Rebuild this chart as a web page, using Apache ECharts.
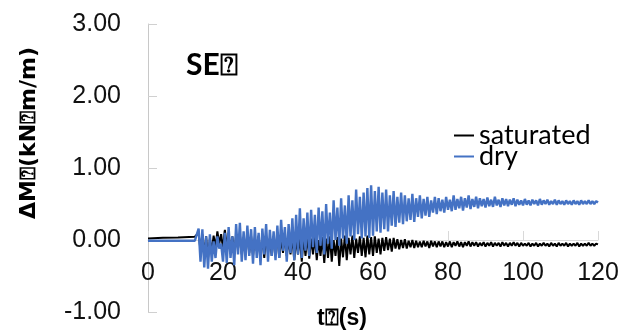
<!DOCTYPE html>
<html>
<head>
<meta charset="utf-8">
<script src="https://cdn.jsdelivr.net/npm/echarts@6/dist/echarts.min.js"></script>
<style>
  html, body { margin: 0; padding: 0; background: #fff; }
  #chart { width: 622px; height: 334px; }
</style>
</head>
<body>
<div id="chart"></div>
<script>
// 轴刻度
const xTicks = [0, 20, 40, 60, 80, 100, 120];
const yTicks = [-1, 0, 1, 2, 3];

// 静止段 (t < 13 s)
const satLeadT = [0, 4, 8, 12.5];
const satLead = [0.02, 0.03, 0.035, 0.045];
const dryLeadT = [0, 6, 12.5];
const dryLead = [-0.01, -0.01, -0.01];

// 振动段: 从 13 s 起每 0.5 s 一个读数
const t0 = 13;
const dt = 0.5;

const dryVals = [
  -0.03, 0.16, -0.30, 0.15, -0.38, 0.05, -0.40, 0.08, -0.30, -0.02,
  -0.25, 0.05, -0.12, -0.05, -0.30, 0.10, -0.32, 0.18, -0.25, 0.05,
  -0.35, 0.22, -0.20, 0.24, -0.30, 0.12, -0.28, 0.20, -0.22, 0.15,
  -0.33, 0.18, -0.25, 0.10, -0.35, 0.16, -0.20, 0.22, -0.30, 0.14,
  -0.22, 0.12, -0.28, 0.20, -0.25, 0.28, -0.15, 0.18, -0.30, 0.22,
  -0.18, 0.30, -0.28, 0.35, -0.20, 0.44, -0.25, 0.30, -0.15, 0.38,
  -0.22, 0.42, -0.10, 0.35, -0.18, 0.45, -0.08, 0.40, -0.20, 0.50,
  -0.05, 0.38, -0.12, 0.55, 0.00, 0.45, -0.08, 0.58, 0.02, 0.48,
  -0.05, 0.62, 0.05, 0.55, 0.00, 0.70, 0.08, 0.60, 0.02, 0.66,
  0.05, 0.72, 0.03, 0.76, 0.06, 0.68, 0.12, 0.74, 0.10, 0.66,
  0.15, 0.70, 0.12, 0.62, 0.20, 0.68, 0.18, 0.60, 0.24, 0.66,
  0.22, 0.62, 0.26, 0.58, 0.28, 0.64, 0.25, 0.58, 0.32, 0.62,
  0.30, 0.57, 0.34, 0.60, 0.32, 0.55, 0.38, 0.60, 0.36, 0.58,
  0.40, 0.56, 0.38, 0.60, 0.42, 0.56, 0.40, 0.62, 0.42, 0.57,
  0.44, 0.60, 0.41, 0.58, 0.45, 0.62, 0.43, 0.57, 0.46, 0.60,
  0.44, 0.58, 0.47, 0.57, 0.45, 0.59, 0.47, 0.56, 0.46, 0.60,
  0.48, 0.56, 0.46, 0.58, 0.48, 0.57, 0.47, 0.56, 0.49, 0.58,
  0.47, 0.56, 0.49, 0.55, 0.48, 0.57, 0.49, 0.55, 0.48, 0.56,
  0.50, 0.55, 0.48, 0.57, 0.49, 0.55, 0.50, 0.56, 0.49, 0.54,
  0.50, 0.56, 0.49, 0.55, 0.50, 0.54, 0.49, 0.55, 0.50, 0.54,
  0.49, 0.55, 0.50, 0.54, 0.49, 0.55, 0.50, 0.54, 0.50, 0.55,
  0.50, 0.54, 0.50, 0.54, 0.52
];

const satVals = [
  0.04, 0.10, -0.15, 0.08, -0.20, 0.05, -0.25, 0.02, -0.15, 0.06,
  -0.10, 0.12, -0.05, 0.08, -0.12, 0.14, -0.08, 0.10, -0.15, 0.05,
  -0.18, 0.06, -0.12, 0.08, -0.20, 0.04, -0.15, 0.07, -0.18, 0.05,
  -0.22, 0.03, -0.15, 0.06, -0.20, 0.02, -0.25, 0.05, -0.18, 0.03,
  -0.22, 0.04, -0.15, 0.06, -0.25, 0.02, -0.18, 0.05, -0.22, 0.00,
  -0.20, 0.04, -0.28, 0.02, -0.20, 0.05, -0.30, 0.03, -0.22, 0.06,
  -0.26, 0.02, -0.20, 0.05, -0.28, 0.00, -0.22, 0.04, -0.32, 0.02,
  -0.25, 0.05, -0.30, 0.00, -0.22, 0.04, -0.36, 0.02, -0.24, 0.06,
  -0.28, 0.03, -0.20, 0.06, -0.25, 0.02, -0.18, 0.05, -0.22, 0.03,
  -0.24, 0.06, -0.20, 0.04, -0.22, 0.05, -0.18, 0.02, -0.20, 0.03,
  -0.15, 0.04, -0.14, 0.02, -0.16, 0.03, -0.12, 0.01, -0.13, 0.00,
  -0.11, 0.01, -0.12, -0.01, -0.10, 0.00, -0.11, -0.01, -0.10, -0.02,
  -0.10, -0.01, -0.09, -0.02, -0.11, -0.01, -0.09, -0.02, -0.10, -0.02,
  -0.09, -0.02, -0.10, -0.03, -0.09, -0.02, -0.10, -0.03, -0.08, -0.02,
  -0.09, -0.03, -0.10, -0.03, -0.08, -0.02, -0.09, -0.03, -0.08, -0.03,
  -0.09, -0.04, -0.08, -0.03, -0.09, -0.04, -0.08, -0.03, -0.09, -0.04,
  -0.08, -0.04, -0.09, -0.03, -0.08, -0.04, -0.09, -0.04, -0.08, -0.03,
  -0.08, -0.04, -0.09, -0.04, -0.08, -0.05, -0.08, -0.04, -0.09, -0.05,
  -0.08, -0.04, -0.09, -0.05, -0.08, -0.04, -0.08, -0.05, -0.09, -0.04,
  -0.08, -0.05, -0.09, -0.04, -0.08, -0.05, -0.08, -0.04, -0.09, -0.05,
  -0.08, -0.05, -0.08, -0.04, -0.09, -0.05, -0.08, -0.05, -0.08, -0.04,
  -0.08, -0.05, -0.08, -0.05, -0.06
];

/**
 * 合并静止段和振动段为 [t, v] 点
 */
const toPoints = (leadT, lead, vals) => {
  const pts = leadT.map((t, i) => [t, lead[i]]);
  vals.forEach((v, i) => pts.push([t0 + i * dt, v]));
  return pts;
};

const chart = echarts.init(document.getElementById('chart'));

// 绘图区高度 288px 对应 -1 ~ 3，x 轴放到 y=0 处
const plotH = 334 - 24 - 22;
const zeroOffset = -plotH * (0 - yTicks[0]) / (yTicks[yTicks.length - 1] - yTicks[0]);

chart.setOption({
  animation: false,
  grid: { left: 148, right: 24, top: 24, bottom: 22, containLabel: false, outerBoundsMode: 'none' },
  legend: {
    orient: 'vertical',
    left: 449,
    top: 117,
    itemGap: -6,
    itemWidth: 20,
    itemHeight: 2,
    icon: 'rect',
    textStyle: { fontFamily: 'Lato', fontSize: 27, lineHeight: 22, color: '#000' },
    data: ['saturated', 'dry'],
  },
  xAxis: {
    type: 'value',
    min: xTicks[0],
    max: xTicks[xTicks.length - 1],
    interval: 20,
    offset: zeroOffset,
    axisLine: { onZero: false, lineStyle: { color: '#d9d9d9', width: 1 } },
    axisTick: { inside: true, length: 9, lineStyle: { color: '#d9d9d9' } },
    splitLine: { show: false },
    axisLabel: {
      margin: 21,
      fontFamily: 'Liberation Sans',
      fontSize: 25,
      color: '#111',
    },
  },
  yAxis: {
    type: 'value',
    min: yTicks[0],
    max: yTicks[yTicks.length - 1],
    interval: 1,
    axisLine: { show: true, lineStyle: { color: '#c8c8c8', width: 1 } },
    axisTick: { show: true, inside: true, length: 9, lineStyle: { color: '#d0d0d0' } },
    splitLine: { show: false },
    axisLabel: {
      margin: 27,
      fontFamily: 'Liberation Sans',
      fontSize: 25,
      color: '#111',
      formatter: (v) => v.toFixed(2),
    },
  },
  graphic: [
    {
      type: 'text',
      left: 186,
      top: 50,
      style: { text: 'SE⍰', font: 'bold 30px Lato', fill: '#000' },
    },
    {
      type: 'text',
      x: 342,
      y: 319,
      style: {
        text: 't⍰(s)',
        font: 'bold 23px "Liberation Sans"',
        fill: '#000',
        align: 'center',
        verticalAlign: 'middle',
      },
    },
    {
      type: 'text',
      x: 29,
      y: 133,
      rotation: Math.PI / 2,
      style: {
        text: 'ΔM⍰(kN⍰m/m)',
        font: 'bold 22px "DejaVu Sans"',
        fill: '#000',
        align: 'center',
        verticalAlign: 'middle',
      },
    },
  ],
  series: [
    {
      name: 'saturated',
      type: 'line',
      data: toPoints(satLeadT, satLead, satVals),
      symbol: 'none',
      lineStyle: { color: '#000', width: 2 },
      itemStyle: { color: '#000' },
    },
    {
      name: 'dry',
      type: 'line',
      data: toPoints(dryLeadT, dryLead, dryVals),
      symbol: 'none',
      lineStyle: { color: '#4472C4', width: 2.4 },
      itemStyle: { color: '#4472C4' },
    },
  ],
});
</script>
</body>
</html>
